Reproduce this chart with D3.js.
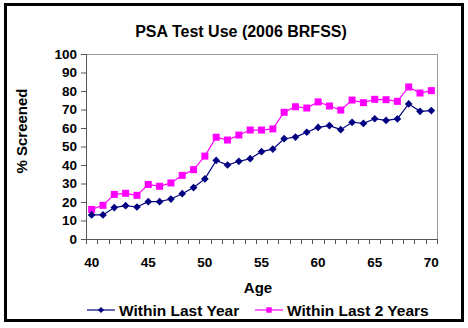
<!DOCTYPE html>
<html>
<head>
<meta charset="utf-8">
<script src="https://cdn.jsdelivr.net/npm/d3@7"></script>
<style>
  body { margin: 0; background: #fff; }
  text { font-family: "Liberation Sans", Arial, sans-serif; font-weight: bold; fill: #000; }
</style>
</head>
<body>
<script>
// data
var ages = d3.range(40, 71);
var lastYear = [13, 13, 17, 18, 17.3, 20.2, 20.2, 21.6, 24.5, 27.8, 32.5,
    42.5, 40, 42, 43.4, 47.2, 48.6, 54.2, 55.1, 57.7, 60.3,
    61.3, 59.1, 63.1, 62.5, 65, 64.1, 64.9, 73, 69, 69.4];
var last2Years = [16, 18.2, 24.1, 24.7, 23.6, 29.5, 28.5, 30.3, 34.4, 37.5, 44.8,
    55, 53.5, 56.2, 58.9, 58.9, 59.5, 68.5, 71.5, 70.8, 74.1,
    71.9, 69.7, 75.1, 73.7, 75.5, 75.3, 74.4, 82.2, 78.9, 80.2];
var yTicks = d3.range(0, 101, 10);
var xLabels = [40, 45, 50, 55, 60, 65, 70];

var W = 468, H = 328;
var margin = { top: 54, right: 31, bottom: 89, left: 86 };
var width = W - margin.left - margin.right;
var height = H - margin.top - margin.bottom;

var svg = d3.select("body").append("svg")
    .attr("width", W)
    .attr("height", H);

// outer frame
svg.append("rect")
    .attr("x", 5.5).attr("y", 4.5)
    .attr("width", 457).attr("height", 316)
    .attr("fill", "none")
    .attr("stroke", "#000")
    .attr("stroke-width", 3);

var g = svg.append("g")
    .attr("transform", "translate(" + margin.left + "," + margin.top + ")");

// SCALES
var x = d3.scaleBand()
    .domain(ages)
    .range([0, width]);

var y = d3.scaleLinear()
    .domain([0, 100])
    .range([height, 0]);

var cx = function (d, i) { return x(ages[i]) + x.bandwidth() / 2; };

// plot area border
g.append("rect")
    .attr("x", 0.5).attr("y", 0.5)
    .attr("width", width).attr("height", height)
    .attr("fill", "none")
    .attr("stroke", "#999")
    .attr("stroke-width", 1);

// y axis
var leftAxis = d3.axisLeft(y).tickValues(yTicks).tickSize(5).tickPadding(4);
var ya = g.append("g").attr("class", "left axis").call(leftAxis);
ya.select(".domain").attr("stroke", "#555");
ya.selectAll(".tick line").attr("stroke", "#555");
ya.selectAll("text").attr("font-size", "13.5px").attr("font-family", "Liberation Sans, Arial, sans-serif").attr("font-weight", "bold");

// x axis: tick marks at category boundaries, labels every 5 years
var xb = g.append("g").attr("class", "bottom axis")
    .attr("transform", "translate(0," + height + ")");
xb.append("line")
    .attr("x1", 0).attr("x2", width)
    .attr("y1", 0.5).attr("y2", 0.5)
    .attr("stroke", "#555");
xb.selectAll(".xtick")
    .data(d3.range(ages.length + 1))
    .enter().append("line")
    .attr("class", "xtick")
    .attr("x1", function (d) { return Math.round(d * x.step()) + 0.5; })
    .attr("x2", function (d) { return Math.round(d * x.step()) + 0.5; })
    .attr("y1", 0).attr("y2", 5)
    .attr("stroke", "#555");
xb.selectAll(".xlab")
    .data(xLabels)
    .enter().append("text")
    .attr("class", "xlab")
    .attr("x", function (d) { return x(d) + x.bandwidth() / 2; })
    .attr("y", 28)
    .attr("text-anchor", "middle")
    .attr("font-size", "13.5px")
    .text(function (d) { return d; });

// lines
var line = d3.line()
    .x(function (d, i) { return cx(d, i); })
    .y(function (d) { return y(d); });

g.append("path").datum(last2Years)
    .attr("d", line)
    .attr("fill", "none")
    .attr("stroke", "#ff00ff")
    .attr("stroke-width", 1.2);

g.append("path").datum(lastYear)
    .attr("d", line)
    .attr("fill", "none")
    .attr("stroke", "#000080")
    .attr("stroke-width", 1.2);

// markers
g.selectAll(".sq").data(last2Years).enter().append("rect")
    .attr("class", "sq")
    .attr("x", function (d, i) { return cx(d, i) - 3.5; })
    .attr("y", function (d) { return y(d) - 3.5; })
    .attr("width", 7).attr("height", 7)
    .attr("fill", "#ff00ff");

var diamond = d3.symbol().type(d3.symbolDiamond2).size(38);
g.selectAll(".dm").data(lastYear).enter().append("path")
    .attr("class", "dm")
    .attr("d", diamond)
    .attr("transform", function (d, i) { return "translate(" + cx(d, i) + "," + y(d) + ")"; })
    .attr("fill", "#000080");

// TITLE LABELS
svg.append("text")
    .attr("x", 241).attr("y", 37)
    .attr("text-anchor", "middle")
    .attr("font-size", "16px")
    .text("PSA Test Use (2006 BRFSS)");

svg.append("text")
    .attr("x", 258).attr("y", 293)
    .attr("text-anchor", "middle")
    .attr("font-size", "15px")
    .text("Age");

svg.append("text")
    .attr("transform", "translate(27,131) rotate(-90)")
    .attr("text-anchor", "middle")
    .attr("font-size", "15px")
    .text("% Screened");

// legend
var legend = [
    { name: "Within Last Year", color: "#000080", x: 87, shape: "d" },
    { name: "Within Last 2 Years", color: "#ff00ff", x: 255, shape: "s" }
];
var lg = svg.selectAll(".lg").data(legend).enter().append("g")
    .attr("class", "lg")
    .attr("transform", function (d) { return "translate(" + d.x + ",310)"; });
lg.append("line")
    .attr("x1", 0).attr("x2", 28)
    .attr("y1", 0).attr("y2", 0)
    .attr("stroke", function (d) { return d.color; })
    .attr("stroke-width", 1.2);
lg.append("path")
    .attr("d", function (d) {
        return d.shape === "d" ? d3.symbol().type(d3.symbolDiamond2).size(24)()
            : d3.symbol().type(d3.symbolSquare).size(30)();
    })
    .attr("transform", "translate(14,0)")
    .attr("fill", function (d) { return d.color; });
lg.append("text")
    .attr("x", 32).attr("y", 5.5)
    .attr("font-size", "15.5px")
    .text(function (d) { return d.name; });
</script>
</body>
</html>
